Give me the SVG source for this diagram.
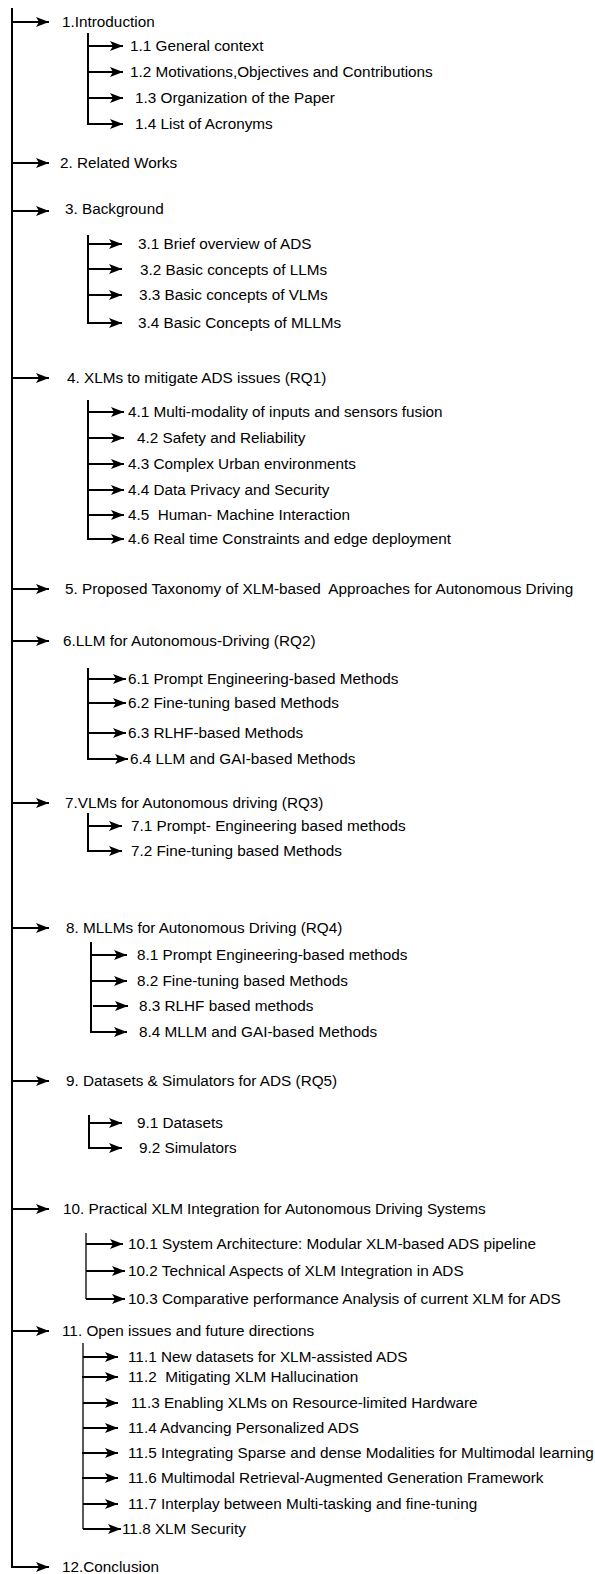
<svg xmlns="http://www.w3.org/2000/svg" width="595" height="1574" viewBox="0 0 595 1574">
  <style>
    text { font-family: "Liberation Sans", Arial, Helvetica, sans-serif; font-size: 15.3px; fill: #000; }
    .trunk { stroke: #000; stroke-width: 2; fill: none; }
    .branch { stroke: #000; stroke-width: 2; fill: none; marker-end: url(#head); }
    .thin { stroke: #000; stroke-width: 1.3; fill: none; }
  </style>
  <defs>
    <marker id="head" viewBox="0 0 13 10" refX="13" refY="5" markerWidth="13" markerHeight="10" markerUnits="userSpaceOnUse" orient="auto">
      <path d="M0,0 L13,5 L0,10 L3,5 Z" fill="#000"/>
    </marker>
  </defs>
  <rect width="595" height="1574" fill="#fff"/>

  <!-- connectors -->
  <g id="connectors">
    <!-- main spine -->
    <path class="trunk" d="M12,8 V1567"/>
    <path class="branch" d="M12,22 H49"/>
    <path class="branch" d="M12,163 H49"/>
    <path class="branch" d="M12,211 H49"/>
    <path class="branch" d="M12,378 H49"/>
    <path class="branch" d="M12,589 H49"/>
    <path class="branch" d="M12,641 H49"/>
    <path class="branch" d="M12,803 H49"/>
    <path class="branch" d="M12,928 H49"/>
    <path class="branch" d="M12,1081 H49"/>
    <path class="branch" d="M12,1209 H49"/>
    <path class="branch" d="M12,1331 H49"/>
    <path class="branch" d="M11,1567 H49"/>

    <!-- section 1 -->
    <path class="trunk" d="M88,33 V124"/>
    <path class="branch" d="M88,46 H123"/>
    <path class="branch" d="M88,72 H123"/>
    <path class="branch" d="M88,98 H123"/>
    <path class="branch" d="M87,124 H123"/>

    <!-- section 3 -->
    <path class="trunk" d="M88,235 V323"/>
    <path class="branch" d="M88,244 H122"/>
    <path class="branch" d="M88,269 H122"/>
    <path class="branch" d="M88,295 H122"/>
    <path class="branch" d="M87,323 H122"/>

    <!-- section 4 -->
    <path class="trunk" d="M88,400 V539"/>
    <path class="branch" d="M88,412 H124"/>
    <path class="branch" d="M88,438 H124"/>
    <path class="branch" d="M88,464 H124"/>
    <path class="branch" d="M88,490 H124"/>
    <path class="branch" d="M88,515 H124"/>
    <path class="branch" d="M87,539 H124"/>

    <!-- section 6 -->
    <path class="trunk" d="M88,668 V759"/>
    <path class="branch" d="M88,679 H126"/>
    <path class="branch" d="M88,703 H126"/>
    <path class="branch" d="M88,733 H126"/>
    <path class="branch" d="M87,759 H128"/>

    <!-- section 7 -->
    <path class="trunk" d="M88,813 V851"/>
    <path class="branch" d="M88,826 H122"/>
    <path class="branch" d="M87,851 H122"/>

    <!-- section 8 -->
    <path class="trunk" d="M91,942 V1032"/>
    <path class="branch" d="M91,955 H127"/>
    <path class="branch" d="M91,981 H127"/>
    <path class="branch" d="M93,1006 H128"/>
    <path class="branch" d="M90,1032 H127"/>

    <!-- section 9 -->
    <path class="trunk" d="M89,1115 V1148"/>
    <path class="branch" d="M89,1123 H122"/>
    <path class="branch" d="M88,1148 H122"/>

    <!-- section 10 -->
    <path class="thin" d="M86,1233 V1299"/>
    <path class="branch" d="M86,1244 H123"/>
    <path class="branch" d="M86,1271 H125"/>
    <path class="branch" d="M86,1299 H125"/>

    <!-- section 11 -->
    <path class="thin" d="M83,1343 V1529"/>
    <path class="branch" d="M83,1357 H118"/>
    <path class="branch" d="M82,1377 H118"/>
    <path class="branch" d="M83,1403 H118"/>
    <path class="branch" d="M83,1428 H118"/>
    <path class="branch" d="M82,1453 H118"/>
    <path class="branch" d="M82,1478 H118"/>
    <path class="branch" d="M83,1504 H118"/>
    <path class="branch" d="M83,1529 H121"/>
  </g>

  <!-- headings and subsections -->
  <g id="s1"><text x="62" y="27">1.Introduction</text></g>
  <g id="s1-1"><text x="130" y="51">1.1 General context</text></g>
  <g id="s1-2"><text x="130" y="77">1.2 Motivations,Objectives and Contributions</text></g>
  <g id="s1-3"><text x="135" y="103">1.3 Organization of the Paper</text></g>
  <g id="s1-4"><text x="135" y="129">1.4 List of Acronyms</text></g>

  <g id="s2"><text x="60" y="168">2. Related Works</text></g>

  <g id="s3"><text x="65" y="214">3. Background</text></g>
  <g id="s3-1"><text x="138" y="249">3.1 Brief overview of ADS</text></g>
  <g id="s3-2"><text x="140" y="275">3.2 Basic concepts of LLMs</text></g>
  <g id="s3-3"><text x="139" y="300">3.3 Basic concepts of VLMs</text></g>
  <g id="s3-4"><text x="138" y="328">3.4 Basic Concepts of MLLMs</text></g>

  <g id="s4"><text x="67" y="383">4. XLMs to mitigate ADS issues (RQ1)</text></g>
  <g id="s4-1"><text x="128" y="417">4.1 Multi-modality of inputs and sensors fusion</text></g>
  <g id="s4-2"><text x="137" y="443">4.2 Safety and Reliability</text></g>
  <g id="s4-3"><text x="128" y="469">4.3 Complex Urban environments</text></g>
  <g id="s4-4"><text x="128" y="495">4.4 Data Privacy and Security</text></g>
  <g id="s4-5"><text x="128" y="520" xml:space="preserve">4.5  Human- Machine Interaction</text></g>
  <g id="s4-6"><text x="128" y="544">4.6 Real time Constraints and edge deployment</text></g>

  <g id="s5"><text x="65" y="594" xml:space="preserve">5. Proposed Taxonomy of XLM-based  Approaches for Autonomous Driving</text></g>

  <g id="s6"><text x="63" y="646">6.LLM for Autonomous-Driving (RQ2)</text></g>
  <g id="s6-1"><text x="128" y="684">6.1 Prompt Engineering-based Methods</text></g>
  <g id="s6-2"><text x="128" y="708">6.2 Fine-tuning based Methods</text></g>
  <g id="s6-3"><text x="128" y="738">6.3 RLHF-based Methods</text></g>
  <g id="s6-4"><text x="130" y="764">6.4 LLM and GAI-based Methods</text></g>

  <g id="s7"><text x="65" y="808">7.VLMs for Autonomous driving (RQ3)</text></g>
  <g id="s7-1"><text x="131" y="831">7.1 Prompt- Engineering based methods</text></g>
  <g id="s7-2"><text x="131" y="856">7.2 Fine-tuning based Methods</text></g>

  <g id="s8"><text x="66" y="933">8. MLLMs for Autonomous Driving (RQ4)</text></g>
  <g id="s8-1"><text x="137" y="960">8.1 Prompt Engineering-based methods</text></g>
  <g id="s8-2"><text x="137" y="986">8.2 Fine-tuning based Methods</text></g>
  <g id="s8-3"><text x="139" y="1011">8.3 RLHF based methods</text></g>
  <g id="s8-4"><text x="139" y="1037">8.4 MLLM and GAI-based Methods</text></g>

  <g id="s9"><text x="66" y="1086">9. Datasets &amp; Simulators for ADS (RQ5)</text></g>
  <g id="s9-1"><text x="137" y="1128">9.1 Datasets</text></g>
  <g id="s9-2"><text x="139" y="1153">9.2 Simulators</text></g>

  <g id="s10"><text x="63" y="1214">10. Practical XLM Integration for Autonomous Driving Systems</text></g>
  <g id="s10-1"><text x="128" y="1249">10.1 System Architecture: Modular XLM-based ADS pipeline</text></g>
  <g id="s10-2"><text x="128" y="1276">10.2 Technical Aspects of XLM Integration in ADS</text></g>
  <g id="s10-3"><text x="128" y="1304">10.3 Comparative performance Analysis of current XLM for ADS</text></g>

  <g id="s11"><text x="62" y="1336">11. Open issues and future directions</text></g>
  <g id="s11-1"><text x="128" y="1362">11.1 New datasets for XLM-assisted ADS</text></g>
  <g id="s11-2"><text x="128" y="1382" xml:space="preserve">11.2  Mitigating XLM Hallucination</text></g>
  <g id="s11-3"><text x="131" y="1408">11.3 Enabling XLMs on Resource-limited Hardware</text></g>
  <g id="s11-4"><text x="128" y="1433">11.4 Advancing Personalized ADS</text></g>
  <g id="s11-5"><text x="128" y="1458">11.5 Integrating Sparse and dense Modalities for Multimodal learning</text></g>
  <g id="s11-6"><text x="128" y="1483">11.6 Multimodal Retrieval-Augmented Generation Framework</text></g>
  <g id="s11-7"><text x="128" y="1509">11.7 Interplay between Multi-tasking and fine-tuning</text></g>
  <g id="s11-8"><text x="122" y="1534">11.8 XLM Security</text></g>

  <g id="s12"><text x="62" y="1572">12.Conclusion</text></g>
</svg>
